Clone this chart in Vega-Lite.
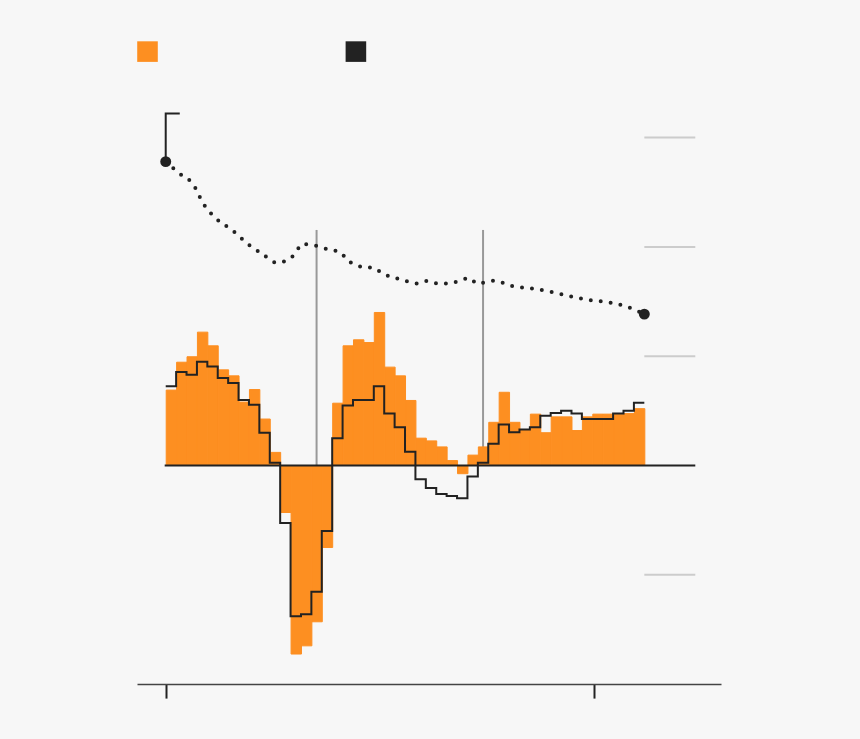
{
  "$schema": "https://vega.github.io/schema/vega-lite/v6.json",
  "width": 584,
  "height": 655.8,
  "autosize": {"type": "none"},
  "padding": {"left": 137, "top": 28.3, "right": 139, "bottom": 55},
  "background": "#f7f7f7",
  "config": {
    "view": {"stroke": null},
    "legend": {
      "orient": "none",
      "legendX": 0,
      "legendY": 12.7,
      "direction": "horizontal",
      "padding": 0,
      "symbolType": "square",
      "symbolSize": 424,
      "symbolStrokeWidth": 0,
      "symbolOpacity": 1,
      "labelOffset": 0,
      "columnPadding": 187.4,
      "title": null
    }
  },
  "datasets": {
    "quarterly": [
      {"q": 0, "v": 1.38}, {"q": 1, "v": 1.89}, {"q": 2, "v": 1.99}, {"q": 3, "v": 2.44},
      {"q": 4, "v": 2.19}, {"q": 5, "v": 1.75}, {"q": 6, "v": 1.64}, {"q": 7, "v": 1.16},
      {"q": 8, "v": 1.39}, {"q": 9, "v": 0.85}, {"q": 10, "v": 0.24}, {"q": 11, "v": -0.86},
      {"q": 12, "v": -3.45}, {"q": 13, "v": -3.30}, {"q": 14, "v": -2.86}, {"q": 15, "v": -1.50},
      {"q": 16, "v": 1.14}, {"q": 17, "v": 2.19}, {"q": 18, "v": 2.30}, {"q": 19, "v": 2.25},
      {"q": 20, "v": 2.80}, {"q": 21, "v": 1.80}, {"q": 22, "v": 1.64}, {"q": 23, "v": 1.19},
      {"q": 24, "v": 0.50}, {"q": 25, "v": 0.45}, {"q": 26, "v": 0.34}, {"q": 27, "v": 0.09},
      {"q": 28, "v": -0.15}, {"q": 29, "v": 0.19}, {"q": 30, "v": 0.34}, {"q": 31, "v": 0.79},
      {"q": 32, "v": 1.34}, {"q": 33, "v": 0.79}, {"q": 34, "v": 0.65}, {"q": 35, "v": 0.94},
      {"q": 36, "v": 0.60}, {"q": 37, "v": 0.89}, {"q": 38, "v": 0.89}, {"q": 39, "v": 0.64},
      {"q": 40, "v": 0.89}, {"q": 41, "v": 0.94}, {"q": 42, "v": 0.94}, {"q": 43, "v": 0.94},
      {"q": 44, "v": 0.95}, {"q": 45, "v": 1.04}
    ],
    "step": [
      {"q": 0, "v": 1.45}, {"q": 1, "v": 1.71}, {"q": 2, "v": 1.66}, {"q": 3, "v": 1.90},
      {"q": 4, "v": 1.81}, {"q": 5, "v": 1.60}, {"q": 6, "v": 1.51}, {"q": 7, "v": 1.20},
      {"q": 8, "v": 1.11}, {"q": 9, "v": 0.60}, {"q": 10, "v": 0.05}, {"q": 11, "v": -1.05},
      {"q": 12, "v": -2.76}, {"q": 13, "v": -2.72}, {"q": 14, "v": -2.31}, {"q": 15, "v": -1.20},
      {"q": 16, "v": 0.50}, {"q": 17, "v": 1.10}, {"q": 18, "v": 1.20}, {"q": 19, "v": 1.20},
      {"q": 20, "v": 1.45}, {"q": 21, "v": 0.95}, {"q": 22, "v": 0.70}, {"q": 23, "v": 0.25},
      {"q": 24, "v": -0.25}, {"q": 25, "v": -0.41}, {"q": 26, "v": -0.52}, {"q": 27, "v": -0.56},
      {"q": 28, "v": -0.60}, {"q": 29, "v": -0.20}, {"q": 30, "v": 0.05}, {"q": 31, "v": 0.40},
      {"q": 32, "v": 0.75}, {"q": 33, "v": 0.61}, {"q": 34, "v": 0.66}, {"q": 35, "v": 0.70},
      {"q": 36, "v": 0.91}, {"q": 37, "v": 0.96}, {"q": 38, "v": 1.00}, {"q": 39, "v": 0.95},
      {"q": 40, "v": 0.85}, {"q": 41, "v": 0.85}, {"q": 42, "v": 0.85}, {"q": 43, "v": 0.95},
      {"q": 44, "v": 1.00}, {"q": 45, "v": 1.15}, {"q": 46, "v": 1.15}
    ],
    "trend": [
      {"q": 0, "v": 5.56}, {"q": 1.28, "v": 5.35}, {"q": 2.69, "v": 5.13}, {"q": 3.59, "v": 4.80},
      {"q": 4.9, "v": 4.51}, {"q": 6.44, "v": 4.30}, {"q": 7.91, "v": 4.05}, {"q": 9.35, "v": 3.86},
      {"q": 10.7, "v": 3.71}, {"q": 11.69, "v": 3.76}, {"q": 12.5, "v": 3.89}, {"q": 13.07, "v": 4.05},
      {"q": 14.23, "v": 4.03}, {"q": 15.89, "v": 3.94}, {"q": 16.75, "v": 3.91}, {"q": 17.4, "v": 3.77},
      {"q": 19.06, "v": 3.63}, {"q": 19.99, "v": 3.62}, {"q": 20.79, "v": 3.52}, {"q": 22.52, "v": 3.41},
      {"q": 24.28, "v": 3.33}, {"q": 25.18, "v": 3.38}, {"q": 26.17, "v": 3.33}, {"q": 27.23, "v": 3.33},
      {"q": 28.22, "v": 3.38}, {"q": 29.22, "v": 3.43}, {"q": 29.92, "v": 3.33}, {"q": 31.58, "v": 3.38},
      {"q": 33.35, "v": 3.28}, {"q": 35.18, "v": 3.24}, {"q": 37.0, "v": 3.18}, {"q": 38.83, "v": 3.10},
      {"q": 40.66, "v": 3.03}, {"q": 42.48, "v": 2.99}, {"q": 44.24, "v": 2.91}, {"q": 46, "v": 2.77}
    ],
    "leader": [
      {"q": 0, "v": 5.56, "o": 0},
      {"q": 0, "v": 6.44, "o": 1},
      {"q": 1.35, "v": 6.44, "o": 2}
    ],
    "grid": [{"v": -2}, {"v": 2}, {"v": 4}, {"v": 6}],
    "events": [{"q": 14.5}, {"q": 30.5}]
  },
  "layer": [
    {
      "data": {"name": "grid"},
      "mark": {"type": "rule", "color": "#cccccc", "strokeWidth": 2},
      "encoding": {
        "y": {"field": "v", "type": "quantitative", "scale": {"domain": [-4, 8], "nice": false, "zero": false}, "axis": null},
        "x": {"datum": 46, "type": "quantitative", "scale": {"domain": [-2.76, 53.37], "nice": false, "zero": false}},
        "x2": {"datum": 50.9}
      }
    },
    {
      "data": {"name": "events"},
      "mark": {"type": "rule", "color": "#999999", "strokeWidth": 2},
      "encoding": {
        "x": {"field": "q", "type": "quantitative"},
        "y": {"datum": 4.31, "type": "quantitative"},
        "y2": {"datum": 0}
      }
    },
    {
      "data": {"name": "quarterly"},
      "mark": {"type": "bar", "opacity": 1, "binSpacing": 0, "stroke": "#fd8f21", "strokeWidth": 1},
      "encoding": {
        "x": {
          "field": "q",
          "type": "quantitative",
          "bin": {"binned": true, "step": 1},
          "scale": {"domain": [-2.76, 53.37], "nice": false, "zero": false},
          "axis": {
            "values": [0, 41.19],
            "labels": false,
            "title": null,
            "grid": false,
            "domainColor": "#444444",
            "domainWidth": 1.5,
            "tickColor": "#222222",
            "tickWidth": 2,
            "tickSize": 14
          }
        },
        "y": {"field": "v", "type": "quantitative"},
        "y2": {"datum": 0},
        "color": {
          "datum": "quarterly",
          "scale": {"domain": ["quarterly", "annual"], "range": ["#fd8f21", "#222222"]},
          "legend": {"labelExpr": "''"}
        }
      }
    },
    {
      "data": {"values": [{}]},
      "mark": {"type": "rule", "color": "#222222", "strokeWidth": 2},
      "encoding": {
        "y": {"datum": 0, "type": "quantitative"},
        "x": {"datum": -0.1, "type": "quantitative"},
        "x2": {"datum": 50.9}
      }
    },
    {
      "data": {"name": "step"},
      "mark": {"type": "line", "interpolate": "step-after", "color": "#222222", "strokeWidth": 2},
      "encoding": {
        "x": {"field": "q", "type": "quantitative"},
        "y": {"field": "v", "type": "quantitative"}
      }
    },
    {
      "data": {"name": "trend"},
      "mark": {"type": "line", "interpolate": "monotone", "color": "#222222", "strokeWidth": 4, "strokeDash": [0, 10], "strokeCap": "round"},
      "encoding": {
        "x": {"field": "q", "type": "quantitative"},
        "y": {"field": "v", "type": "quantitative"}
      }
    },
    {
      "data": {"name": "leader"},
      "mark": {"type": "line", "color": "#222222", "strokeWidth": 2},
      "encoding": {
        "x": {"field": "q", "type": "quantitative"},
        "y": {"field": "v", "type": "quantitative"},
        "order": {"field": "o"}
      }
    },
    {
      "data": {"name": "trend"},
      "transform": [{"filter": "datum.q == 0 || datum.q == 46"}],
      "mark": {"type": "circle", "color": "#222222", "opacity": 1, "size": 120},
      "encoding": {
        "x": {"field": "q", "type": "quantitative"},
        "y": {"field": "v", "type": "quantitative"}
      }
    }
  ]
}
